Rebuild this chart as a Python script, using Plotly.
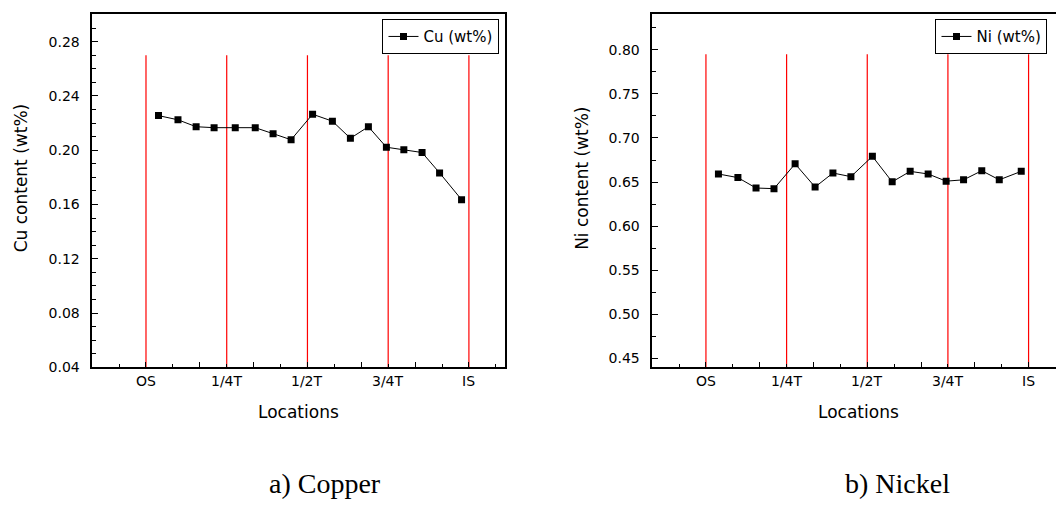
import plotly.graph_objects as go

# ---------------- data ----------------
positions = [0.465, 1.189, 1.863, 2.531, 3.317, 4.060, 4.723, 5.392, 6.191,
             6.927, 7.596, 8.265, 8.934, 9.582, 10.259, 10.910, 11.727]
cu_values = [0.2255, 0.2224, 0.2173, 0.2166, 0.2166, 0.2166, 0.2122, 0.2077, 0.2265,
             0.2214, 0.2088, 0.2173, 0.2022, 0.2004, 0.1983, 0.1833, 0.1636]
ni_values = [0.6592, 0.6551, 0.6433, 0.6426, 0.6707, 0.6444, 0.6603, 0.6562, 0.6792,
             0.6503, 0.6622, 0.6592, 0.6511, 0.6526, 0.6629, 0.6526, 0.6622]
location_positions = [0, 3, 6, 9, 12]
location_labels = ["OS", "1/4T", "1/2T", "3/4T", "IS"]
cu_marker_top = 0.27
ni_marker_top = 0.795

W, H = 1056, 507
FONT = "DejaVu Sans"

def px_x(p):
    return p / W

def px_y(p):
    return 1 - p / H

fig = go.Figure()

# red location lines
for i, xv in enumerate(location_positions):
    fig.add_trace(go.Scatter(x=[xv, xv], y=[0.04, cu_marker_top], mode="lines",
                             line=dict(color="#ff0000", width=1.2), showlegend=False,
                             hoverinfo="skip", xaxis="x", yaxis="y"))
    fig.add_trace(go.Scatter(x=[xv, xv], y=[0.44, ni_marker_top], mode="lines",
                             line=dict(color="#ff0000", width=1.2), showlegend=False,
                             hoverinfo="skip", xaxis="x2", yaxis="y2"))

fig.add_trace(go.Scatter(x=positions, y=cu_values, mode="lines+markers", name="Cu (wt%)",
                         line=dict(color="black", width=1),
                         marker=dict(symbol="square", size=7, color="black"),
                         xaxis="x", yaxis="y", legend="legend"))
fig.add_trace(go.Scatter(x=positions, y=ni_values, mode="lines+markers", name="Ni (wt%)",
                         line=dict(color="black", width=1),
                         marker=dict(symbol="square", size=7, color="black"),
                         xaxis="x2", yaxis="y2", legend="legend2"))

ydom = [px_y(373.3), px_y(14.7)]
common_x = dict(range=None, showline=True, linecolor="black", linewidth=1.5, mirror=True,
                ticks="inside", tickcolor="black", ticklen=6, tickwidth=1, dtick=2, tick0=0,
                showticklabels=False, showgrid=False, zeroline=False,
                minor=dict(ticks="inside", dtick=1, ticklen=3.5, tickcolor="black", tickwidth=1))

fig.update_layout(
    width=W, height=H, margin=dict(l=0, r=0, t=0, b=0),
    paper_bgcolor="white", plot_bgcolor="white",
    font=dict(family=FONT, size=14, color="black"),
    xaxis=dict(common_x, domain=[px_x(92.3), px_x(504.7)], range=[-1.995, 13.33], anchor="y"),
    xaxis2=dict(common_x, domain=[px_x(652.3), 1.0], range=[-1.995, 13.02], anchor="y2"),
    yaxis=dict(domain=ydom, range=[0.04, 0.30], anchor="x", showline=True, linecolor="black",
               linewidth=1.5, mirror=True, ticks="inside", ticklen=6, tickwidth=1,
               tickcolor="black", dtick=0.04, tick0=0.04, tickformat=".2f",
               ticklabelstandoff=8, showgrid=False, zeroline=False,
               tickfont=dict(family=FONT, size=14),
               minor=dict(ticks="inside", dtick=0.01, ticklen=3.5, tickcolor="black", tickwidth=1)),
    yaxis2=dict(domain=ydom, range=[0.44, 0.84], anchor="x2", showline=True, linecolor="black",
                linewidth=1.5, mirror=False, ticks="inside", ticklen=6, tickwidth=1,
                tickcolor="black", dtick=0.05, tick0=0.45, tickformat=".2f",
                ticklabelstandoff=8, showgrid=False, zeroline=False,
                tickfont=dict(family=FONT, size=14),
                minor=dict(ticks="inside", dtick=0.025, ticklen=3.5, tickcolor="black", tickwidth=1)),
    legend=dict(x=px_x(499.3), xanchor="right", y=px_y(19.3), yanchor="top",
                bordercolor="black", borderwidth=1.2, bgcolor="white",
                font=dict(family=FONT, size=15)),
    legend2=dict(x=px_x(1047.3), xanchor="right", y=px_y(19.3), yanchor="top",
                 bordercolor="black", borderwidth=1.2, bgcolor="white",
                 font=dict(family=FONT, size=15)),
)

ann = []
for xr in ["x", "x2"]:
    for xv, lab in zip(location_positions, location_labels):
        ann.append(dict(x=xv, xref=xr, y=px_y(387.5), yref="paper", text=lab, showarrow=False,
                        xanchor="center", yanchor="middle", font=dict(family=FONT, size=14)))
# axis titles
ann.append(dict(x=px_x(298.5), y=px_y(419), xref="paper", yref="paper", text="Locations",
                showarrow=False, xanchor="center", yanchor="middle", font=dict(family=FONT, size=17)))
ann.append(dict(x=px_x(858.5), y=px_y(419), xref="paper", yref="paper", text="Locations",
                showarrow=False, xanchor="center", yanchor="middle", font=dict(family=FONT, size=17)))
ann.append(dict(x=px_x(20.7), y=px_y(180.5), xref="paper", yref="paper", text="Cu content (wt%)",
                textangle=-90, showarrow=False, xanchor="center", yanchor="middle",
                font=dict(family=FONT, size=17)))
ann.append(dict(x=px_x(581.7), y=px_y(181), xref="paper", yref="paper", text="Ni content (wt%)",
                textangle=-90, showarrow=False, xanchor="center", yanchor="middle",
                font=dict(family=FONT, size=17)))
# captions
ann.append(dict(x=px_x(324.7), y=px_y(491), xref="paper", yref="paper", text="a) Copper",
                showarrow=False, xanchor="center", yanchor="middle",
                font=dict(family="Liberation Serif", size=28)))
ann.append(dict(x=px_x(897.7), y=px_y(491), xref="paper", yref="paper", text="b) Nickel",
                showarrow=False, xanchor="center", yanchor="middle",
                font=dict(family="Liberation Serif", size=28)))
fig.update_layout(annotations=ann)

fig.write_html("out.html")
